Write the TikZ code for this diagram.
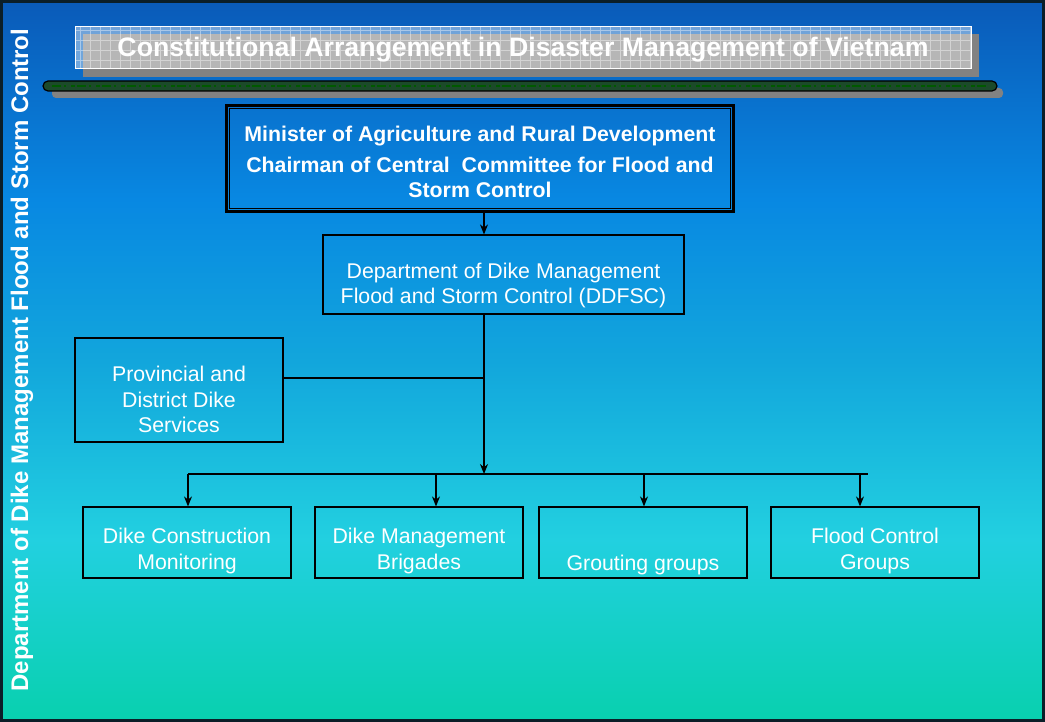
\documentclass[tikz,border=0pt]{standalone}
\usepackage{fontspec}
\setmainfont{Liberation Sans}
\usetikzlibrary{arrows.meta,calc}
\definecolor{bgtop}{HTML}{0A5AB8}
\definecolor{bgblue}{HTML}{0888E2}
\definecolor{bgmid}{HTML}{12A6DC}
\definecolor{bgcyan}{HTML}{22D0E0}
\definecolor{bgbot}{HTML}{08D0AE}
\definecolor{framecol}{HTML}{0B1E28}
\definecolor{shadowgray}{HTML}{828282}
\definecolor{dikegreen}{HTML}{1C4A2A}
\pgfdeclareverticalshading{slidebg}{100bp}{color(0bp)=(bgbot); color(25bp)=(bgbot); color(37.6bp)=(bgcyan); color(50bp)=(bgmid); color(61.2bp)=(bgblue); color(75bp)=(bgtop); color(100bp)=(bgtop)}
\tikzset{
 unitbox/.style={draw=black, line width=1.2pt, inner sep=0pt},
 boxtext/.style={text=white, align=center, font=\fontsize{21.3}{26}\selectfont, inner sep=0pt},
 link/.style={line width=1.3pt},
 arr/.style={line width=1.3pt, -{Stealth[length=10pt,width=8pt]}}
}
\begin{document}
\begin{tikzpicture}[x=1pt,y=-1pt]
\useasboundingbox (0,0) rectangle (1045,722);
\shade[shading=slidebg] (0,0) rectangle (1045,722);
\draw[framecol, line width=3pt] (1.5,1.5) rectangle (1043.5,720.5);

\fill[shadowgray] (83,34) rectangle (979,77);
\fill[white, fill opacity=0.42] (75,27) rectangle (971,69);
\draw[white, opacity=0.4, line width=0.6pt, step=10pt] (75,27) grid (971,69);
\draw[white, line width=1pt] (75,27) rectangle (971,69);
\node[text=white, font=\bfseries\fontsize{26.7}{30}\selectfont] (title) at (523,50) {Constitutional Arrangement in Disaster Management of Vietnam};

\fill[shadowgray, rounded corners=4pt] (52,88) rectangle (1003,98);
\filldraw[fill=dikegreen, draw=black, line width=1.2pt, rounded corners=5pt] (43,81) rectangle (997,91);
\draw[green!35!black, line width=1.5pt, dash pattern=on 9pt off 3pt on 2pt off 5pt on 4pt off 2pt] (52,86)--(988,86);

\node[rotate=90, text=white, font=\bfseries\fontsize{24}{28}\selectfont] (side) at (22,360) {Department of Dike Management Flood and Storm Control};

\node[unitbox, line width=3.5pt, minimum width=507pt, minimum height=106pt] (minister) at (480,158.5) {};
\draw[line width=0.8pt] ($(minister.south west)+(5,-5)$) rectangle ($(minister.north east)+(-5,5)$);
\node[boxtext, font=\bfseries\fontsize{21.3}{25}\selectfont] (minister-t) at ($(minister)+(0,3)$) {Minister of Agriculture and Rural Development\\[6pt]Chairman of Central\ \ Committee for Flood and\\Storm Control};

\node[unitbox, minimum width=361pt, minimum height=79pt] (ddfsc) at (503.5,274.5) {};
\node[boxtext, font=\fontsize{21.3}{25}\selectfont] (ddfsc-t) at ($(ddfsc)+(0,11)$) {Department of Dike Management\\Flood and Storm Control (DDFSC)};

\node[unitbox, minimum width=208pt, minimum height=104pt] (prov) at (179,390) {};
\node[boxtext, font=\fontsize{21.3}{25.5}\selectfont] (prov-t) at ($(prov)+(0,9.5)$) {Provincial and\\District Dike\\Services};

\node[unitbox, minimum width=208pt, minimum height=71pt] (dcm) at (187,542.5) {};
\node[boxtext] (dcm-t) at ($(dcm)+(0,8.5)$) {Dike Construction\\Monitoring};
\node[unitbox, minimum width=208pt, minimum height=71pt] (dmb) at (419,542.5) {};
\node[boxtext] (dmb-t) at ($(dmb)+(0,8.5)$) {Dike Management\\Brigades};
\node[unitbox, minimum width=208pt, minimum height=71pt] (grout) at (643,542.5) {};
\node[boxtext] (grout-t) at ($(grout)+(0,22)$) {Grouting groups};
\node[unitbox, minimum width=208pt, minimum height=71pt] (fcg) at (875,542.5) {};
\node[boxtext] (fcg-t) at ($(fcg)+(0,8.5)$) {Flood Control\\Groups};

\coordinate (trunk) at (484,474);
\coordinate (prov-join) at (484,378);
\coordinate (busL) at (188,474);
\coordinate (busR) at (868,474);
\coordinate (bus-dmb) at (436,474);
\coordinate (bus-grout) at (644,474);
\coordinate (bus-fcg) at (860,474);

\draw[arr] (minister.south -| trunk) -- (ddfsc.north -| trunk);
\draw[arr] (ddfsc.south -| trunk) -- (trunk);
\draw[link] (prov.east |- prov-join) -- (prov-join);
\draw[link, line width=1.8pt] (busL) -- (busR);
\draw[arr] (busL) -- (dcm.north -| busL);
\draw[arr] (bus-dmb) -- (dmb.north -| bus-dmb);
\draw[arr] (bus-grout) -- (grout.north -| bus-grout);
\draw[arr] (bus-fcg) -- (fcg.north -| bus-fcg);
\end{tikzpicture}
\end{document}
